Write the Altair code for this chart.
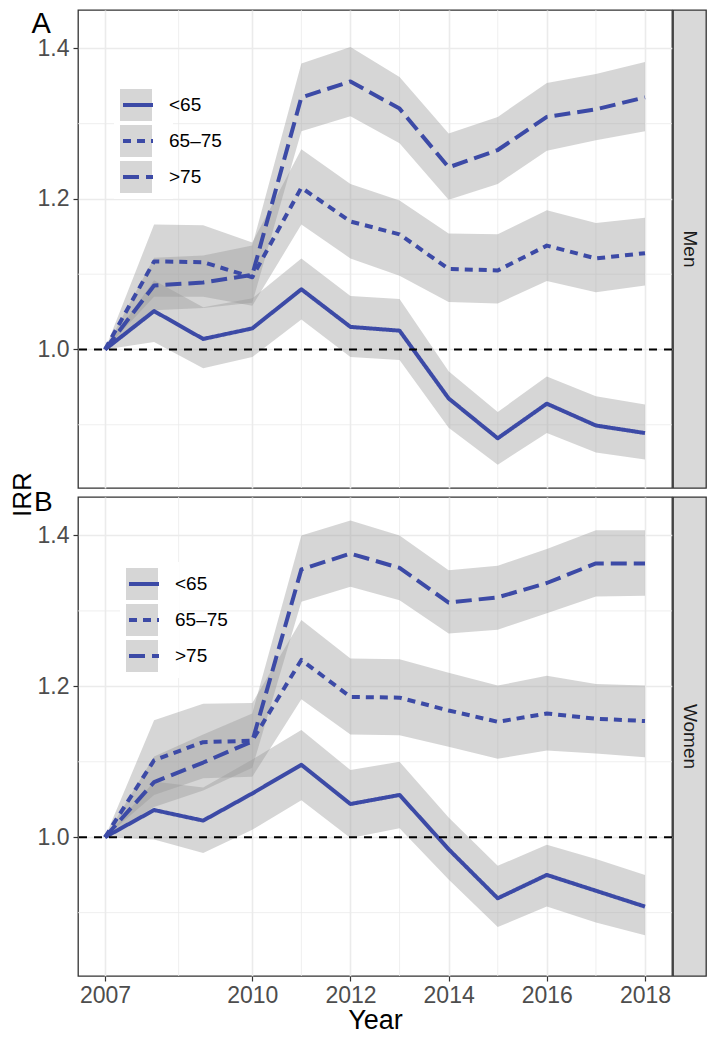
import altair as alt
import pandas as pd

years = list(range(2007, 2019))
ages = ["<65", "65–75", ">75"]

# Men (panel A)
men_u65 = [1.0, 1.051, 1.014, 1.028, 1.080, 1.030, 1.025, 0.935, 0.882, 0.928, 0.899, 0.889]
men_u65_lo = [1.0, 1.010, 0.975, 0.990, 1.040, 0.990, 0.986, 0.896, 0.847, 0.889, 0.863, 0.854]
men_u65_hi = [1.0, 1.092, 1.056, 1.068, 1.121, 1.071, 1.067, 0.971, 0.917, 0.964, 0.938, 0.927]
men_mid = [1.0, 1.117, 1.116, 1.096, 1.215, 1.170, 1.153, 1.107, 1.105, 1.138, 1.121, 1.128]
men_mid_lo = [1.0, 1.070, 1.070, 1.058, 1.166, 1.121, 1.098, 1.063, 1.061, 1.091, 1.076, 1.085]
men_mid_hi = [1.0, 1.166, 1.165, 1.142, 1.266, 1.220, 1.198, 1.154, 1.153, 1.185, 1.168, 1.175]
men_o75 = [1.0, 1.085, 1.089, 1.099, 1.335, 1.356, 1.320, 1.242, 1.265, 1.309, 1.319, 1.335]
men_o75_lo = [1.0, 1.052, 1.055, 1.062, 1.290, 1.310, 1.274, 1.199, 1.220, 1.264, 1.278, 1.290]
men_o75_hi = [1.0, 1.122, 1.125, 1.138, 1.380, 1.402, 1.362, 1.287, 1.309, 1.354, 1.366, 1.382]

# Women (panel B)
wom_u65 = [1.0, 1.036, 1.022, 1.058, 1.096, 1.044, 1.056, 0.984, 0.919, 0.950, 0.929, 0.908]
wom_u65_lo = [1.0, 0.997, 0.979, 1.010, 1.049, 0.999, 1.012, 0.944, 0.881, 0.908, 0.887, 0.870]
wom_u65_hi = [1.0, 1.074, 1.066, 1.103, 1.142, 1.089, 1.100, 1.026, 0.962, 0.990, 0.971, 0.950]
wom_mid = [1.0, 1.102, 1.126, 1.128, 1.235, 1.186, 1.185, 1.168, 1.153, 1.164, 1.157, 1.154]
wom_mid_lo = [1.0, 1.056, 1.078, 1.080, 1.183, 1.136, 1.135, 1.120, 1.104, 1.115, 1.111, 1.106]
wom_mid_hi = [1.0, 1.155, 1.177, 1.178, 1.288, 1.237, 1.236, 1.218, 1.201, 1.214, 1.203, 1.201]
wom_o75 = [1.0, 1.073, 1.099, 1.127, 1.355, 1.376, 1.357, 1.311, 1.318, 1.337, 1.363, 1.363]
wom_o75_lo = [1.0, 1.040, 1.062, 1.092, 1.312, 1.332, 1.314, 1.270, 1.275, 1.297, 1.319, 1.320]
wom_o75_hi = [1.0, 1.107, 1.136, 1.164, 1.400, 1.420, 1.400, 1.354, 1.360, 1.382, 1.407, 1.407]

x_ticks = [2007, 2010, 2012, 2014, 2016, 2018]
x_minor = [2008.5, 2011, 2013, 2015, 2017]
y_ticks = [1.0, 1.2, 1.4]
y_minor = [0.9, 1.1, 1.3]
ref_line = [1.0]

BLUE = "#3C4AA6"
FONT = "Liberation Sans"
X_DOMAIN = [2006.45, 2018.55]
Y_DOMAIN = [0.816, 1.451]
W = 594
H_A = 478
H_B = 479
STRIP_W = 33


def make_df(series):
    rows = []
    for age, (m, lo, hi) in zip(ages, series):
        for yr, a, b, c in zip(years, m, lo, hi):
            rows.append({"year": yr, "age": age, "age2": age, "irr": a, "lo": b, "hi": c})
    return pd.DataFrame(rows)


men_df = make_df([(men_u65, men_u65_lo, men_u65_hi),
                  (men_mid, men_mid_lo, men_mid_hi),
                  (men_o75, men_o75_lo, men_o75_hi)])
wom_df = make_df([(wom_u65, wom_u65_lo, wom_u65_hi),
                  (wom_mid, wom_mid_lo, wom_mid_hi),
                  (wom_o75, wom_o75_lo, wom_o75_hi)])

AX = dict(labelFontSize=23, labelColor="#4d4d4d", tickColor="#333333", tickSize=5,
          tickWidth=1.2, domain=False, grid=True, gridColor="#ebebeb", gridWidth=1.6)


def panel(df, is_bottom, lx, ly, height):
    xscale = alt.Scale(domain=X_DOMAIN, nice=False, zero=False)
    yscale = alt.Scale(domain=Y_DOMAIN, nice=False, zero=False)
    if is_bottom:
        xaxis = alt.Axis(values=x_ticks, format="d", title="Year", labelPadding=3,
                         titlePadding=0, titleFontSize=27, titleFontWeight="normal",
                         titleColor="black", labelFlush=False, **AX)
        yaxis = alt.Axis(values=y_ticks, format=".1f", title="IRR", titleY=-3,
                         titleFontSize=26, titleFontWeight="normal", titleColor="black",
                         titlePadding=2, labelPadding=4, **AX)
        ttl = alt.TitleParams("B", anchor="start", frame="group", orient="top",
                              fontSize=28, fontWeight="normal", color="black", font=FONT,
                              dx=-44, offset=-45)
    else:
        xaxis = alt.Axis(values=x_ticks, labels=False, ticks=False, domain=False, title=None,
                         grid=True, gridColor="#ebebeb", gridWidth=1.6)
        yaxis = alt.Axis(values=y_ticks, format=".1f", title="A", titleAngle=0, titleX=-47,
                         titleY=-1, titleAlign="left", titleBaseline="top", titleFontSize=29,
                         titleFontWeight="normal", titleColor="black", labelPadding=4, **AX)
        ttl = None

    minor_y = alt.Chart(pd.DataFrame({"v": y_minor})).mark_rule(
        color="#ebebeb", strokeWidth=0.8).encode(
        y=alt.Y("v:Q", scale=yscale, axis=yaxis))
    minor_x = alt.Chart(pd.DataFrame({"v": x_minor})).mark_rule(
        color="#ebebeb", strokeWidth=0.8).encode(
        x=alt.X("v:Q", scale=xscale, axis=xaxis))

    base = alt.Chart(df)
    ribbons = base.mark_area(opacity=0.4).encode(
        x=alt.X("year:Q", scale=xscale, axis=xaxis),
        y=alt.Y("lo:Q", scale=yscale, axis=yaxis),
        y2="hi:Q",
        fill=alt.Fill("age2:N", scale=alt.Scale(range=["#999999"] * 3),
                      legend=alt.Legend(orient="none", legendX=lx - 6, legendY=ly - 6,
                                        title=None, symbolType="square", symbolSize=1024,
                                        symbolStrokeWidth=0, symbolOpacity=0.4,
                                        clipHeight=32, rowPadding=4, labelFontSize=19,
                                        labelExpr="'\u2003\u2003\u2003'", labelOpacity=0,
                                        labelOffset=15, padding=6, fillColor="white",
                                        zindex=0, labelFont=FONT)),
    )
    lines = base.mark_line(color=BLUE, strokeWidth=4, strokeJoin="round").encode(
        x=alt.X("year:Q", scale=xscale, axis=xaxis),
        y=alt.Y("irr:Q", scale=yscale, axis=yaxis),
        strokeDash=alt.StrokeDash("age:N", scale=alt.Scale(domain=ages,
                                                          range=[[1, 0], [8, 6], [16, 7]]),
                                  legend=alt.Legend(orient="none", legendX=lx + 1, legendY=ly,
                                                    title=None, symbolType="stroke",
                                                    symbolSize=900, symbolStrokeWidth=4,
                                                    symbolStrokeColor=BLUE, clipHeight=32,
                                                    rowPadding=4, labelFontSize=19,
                                                    labelColor="black", labelOffset=14,
                                                    padding=0, zindex=1, labelFont=FONT)),
    )
    hline = alt.Chart(pd.DataFrame({"v": ref_line})).mark_rule(
        color="black", strokeDash=[8, 7], strokeWidth=2).encode(
        y=alt.Y("v:Q", scale=yscale, axis=yaxis))

    props = dict(width=W, height=height,
                 view=alt.ViewBackground(fill="white", stroke="#333333", strokeWidth=1.3))
    if ttl is not None:
        props["title"] = ttl
    return alt.layer(minor_y, minor_x, ribbons, lines, hline).properties(**props)


def strip(label, height):
    return alt.Chart(pd.DataFrame({"s": [label]})).mark_text(
        angle=90, fontSize=19, color="#1a1a1a", font=FONT).encode(
        text="s:N").properties(
        width=STRIP_W, height=height,
        view=alt.ViewBackground(fill="#d9d9d9", stroke="#333333", strokeWidth=1.3))


panel_a = panel(men_df, False, 42, 79, H_A)
panel_b = panel(wom_df, True, 48, 71, H_B)

chart = alt.concat(
    panel_a, strip("Men", H_A), panel_b, strip("Women", H_B),
    columns=2, spacing={"row": 9, "column": 1}, bounds="flush",
).resolve_legend(
    fill="independent", strokeDash="independent"
).resolve_scale(
    fill="independent", strokeDash="independent"
).properties(
    padding={"left": 0, "top": 0, "right": 0, "bottom": 0},
    background="white",
).configure(
    font=FONT
).configure_axis(
    labelFont=FONT, titleFont=FONT
)

chart.save("out.html", embed_options={"renderer": "svg", "actions": False})
